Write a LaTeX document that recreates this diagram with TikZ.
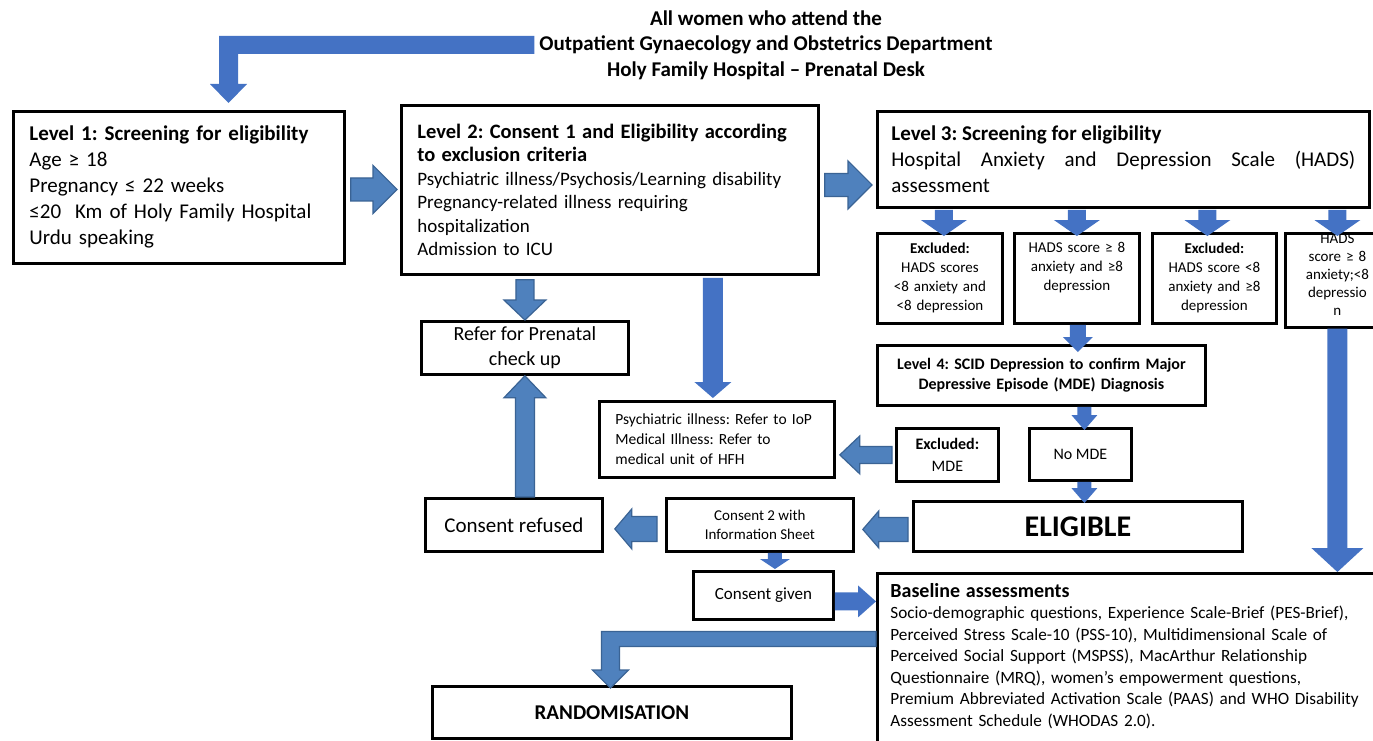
\documentclass[tikz,border=0pt]{standalone}
\usepackage{fontspec}
\setmainfont{Carlito}
\usetikzlibrary{calc}

\definecolor{flowblue}{HTML}{4472C4}
\definecolor{edgeblue}{HTML}{4F81BD}
\definecolor{edgeline}{HTML}{3A6394}

\frenchspacing
\newcommand{\fsize}[2]{\fontsize{#1}{#2}\selectfont}
% block arrow: [style]{from}{to}{shaft half width}{head half width}{head length}
\newcommand{\blockarrow}[6][flow]{%
	\coordinate (ba-s) at (#2);
	\coordinate (ba-e) at (#3);
	\coordinate (ba-h) at ($(ba-e)!#6!(ba-s)$);
	\draw[#1] ($(ba-s)!#4!90:(ba-e)$) -- ($(ba-h)!#4!-90:(ba-s)$) -- ($(ba-h)!#5!-90:(ba-s)$) -- (ba-e)
		-- ($(ba-h)!#5!90:(ba-s)$) -- ($(ba-h)!#4!90:(ba-s)$) -- ($(ba-s)!#4!-90:(ba-e)$) -- cycle;
}

\tikzset{
	box/.style={draw=black, line width=2.8pt, fill=white, inner sep=0pt, anchor=north west},
	flow/.style={fill=flowblue, draw=none},
	flowedge/.style={fill=edgeblue, draw=edgeline, line width=1.2pt, line join=miter},
}

\begin{document}
\begin{tikzpicture}[x=1pt, y=-1pt]
	\useasboundingbox[fill=white] (0,0) rectangle (1373,741);

	\node[inner sep=0pt, align=center, font={\fsize{21}{25.5}\bfseries}] (title) at (766,45)
		{All women who attend the\\Outpatient Gynaecology and Obstetrics Department\\Holy Family Hospital -- Prenatal Desk};

	\node[box, minimum width=331, minimum height=152, text width=299, align=left, font={\fsize{21}{26}}] (lvl1) at (12,110)
		{\textbf{Level 1: Screening for eligibility}\\Age ≥ 18\\Pregnancy ≤ 22 weeks\\≤20~ Km of Holy Family Hospital\\Urdu speaking};
	\node[box, minimum width=417, minimum height=169, text width=385, align=left, font={\fsize{19}{23.5}}] (lvl2) at (400,104)
		{{\fsize{20.5}{24}\bfseries Level 2: Consent 1 and Eligibility according}\\{\fsize{20.5}{24}\bfseries to exclusion criteria}\\Psychiatric illness/Psychosis/Learning disability\\Pregnancy-related illness requiring\\hospitalization\\Admission to ICU};
	\node[box, minimum width=492, minimum height=96, text width=464, align=justify, font={\fsize{21}{26}\hyphenpenalty=10000\tolerance=10000}] (lvl3) at (876,110)
		{\textbf{Level 3: Screening for eligibility}\\Hospital Anxiety and Depression Scale (HADS) assessment};

	\node[box, minimum width=125, minimum height=90, text width=115, align=center, font={\fsize{15}{19}}] (hadsA) at (876,232)
		{\textbf{Excluded:}\\HADS scores\\<8 anxiety and\\<8 depression};
	\node[box, minimum width=125, minimum height=90, text width=115, align=center, font={\fsize{15}{19}}] (hadsB) at (1013,232)
		{HADS score ≥ 8\\anxiety and ≥8\\depression\\\strut};
	\node[box, minimum width=124, minimum height=90, text width=115, align=center, font={\fsize{15}{19}}] (hadsC) at (1151,232)
		{\textbf{Excluded:}\\HADS score <8\\anxiety and ≥8\\depression};
	\node[box, minimum width=104, minimum height=90, text width=96, align=center, font={\fsize{15}{18}}] (hadsD) at (1284,232)
		{HADS\\score ≥ 8\\anxiety;<8\\depressio\\n\\[-6pt]\mbox{}};

	\node[box, minimum width=328, minimum height=60, text width=310, align=center, font={\fsize{16}{20}\bfseries}] (lvl4) at (876,344)
		{Level 4: SCID Depression to confirm Major\\Depressive Episode (MDE) Diagnosis};
	\node[box, minimum width=102, minimum height=53, align=center, font={\fsize{16}{22}}] (exMDE) at (895,427)
		{\textbf{Excluded:}\\MDE};
	\node[box, minimum width=102, minimum height=52, font={\fsize{16}{20}}] (noMDE) at (1028,427) {No MDE};
	\node[box, minimum width=329, minimum height=50, font={\fsize{30}{34}\bfseries}] (eligible) at (912,500) {ELIGIBLE};

	\node[box, minimum width=207, minimum height=53, align=center, font={\fsize{20}{25}}] (refer) at (420,320)
		{Refer for Prenatal\\check up};
	\node[box, minimum width=235, minimum height=76, text width=203, align=left, font={\fsize{15.5}{20}}] (psych) at (598,400)
		{Psychiatric illness: Refer to IoP\\Medical Illness: Refer to\\medical unit of HFH};
	\node[box, minimum width=177, minimum height=53, font={\fsize{21}{25}}] (refused) at (424,497) {Consent refused};
	\node[box, minimum width=187, minimum height=53, align=center, font={\fsize{15}{19}}] (consent2) at (665,497)
		{Consent 2 with\\Information Sheet};
	\node[box, minimum width=140, minimum height=48, font={\fsize{17}{20}}] (given) at (692,570) {Consent given};

	\node[box, inner xsep=13pt, inner ysep=10pt, text width=500, align=left, font={\fsize{17.2}{21.5}}] (base) at (876,572)
		{{\fsize{20}{21.5}\bfseries Baseline assessments}\\Socio-demographic questions, Experience Scale-Brief (PES-Brief),\\Perceived Stress Scale-10 (PSS-10), Multidimensional Scale of\\Perceived Social Support (MSPSS), MacArthur Relationship\\Questionnaire (MRQ), women’s empowerment questions,\\Premium Abbreviated Activation Scale (PAAS) and WHO Disability\\Assessment Schedule (WHODAS 2.0).\\[-10pt]\mbox{}};
	\node[box, minimum width=359, minimum height=52, font={\fsize{21}{25}\bfseries}] (rand) at (431,685) {RANDOMISATION};

	% bent arrows
	\coordinate (tstart) at ($(title.west)+(-5,0)$);
	\coordinate (ttip) at ($(lvl1.north west)+(216.5,-7)$);
	\fill[flowblue] ($(tstart)+(0,-9)$) -| ($(ttip)+(-9.5,-19)$) -- ($(ttip)+(-18.5,-19)$) -- (ttip)
		-- ($(ttip)+(18.5,-19)$) -- ($(ttip)+(9.5,-19)$) |- ($(tstart)+(0,9)$) -- cycle;
	\coordinate (rstart) at ($(base.north west)+(0,67)$);
	\coordinate (rtip) at ($(rand.north)+(-1.5,3)$);
	\draw[flowedge] ($(rstart)+(0,-7.5)$) -| ($(rtip)+(-9,-18)$) -- ($(rtip)+(-18,-18)$) -- (rtip)
		-- ($(rtip)+(18,-18)$) -- ($(rtip)+(9,-18)$) |- ($(rstart)+(0,7.5)$) -- cycle;

	% straight arrows
	\blockarrow[flowedge]{$(lvl1.east)+(5,2)$}{$(lvl1.east -| lvl2.west)+(-3,2)$}{11.5pt}{24pt}{24pt}
	\blockarrow[flowedge]{$(lvl2.east)+(5,-5)$}{$(lvl2.east -| lvl3.west)+(-4,-5)$}{11.5pt}{24pt}{24pt}
	\blockarrow{$(hadsA.north |- lvl3.south)+(4,1)$}{$(hadsA.north)+(4,4)$}{9pt}{23pt}{16pt}
	\blockarrow{$(hadsB.north |- lvl3.south)+(0,1)$}{$(hadsB.north)+(0,4)$}{9pt}{23pt}{16pt}
	\blockarrow{$(hadsC.north |- lvl3.south)+(-7,1)$}{$(hadsC.north)+(-7,4)$}{9pt}{23pt}{16pt}
	\blockarrow{$(hadsD.north |- lvl3.south)+(0,1)$}{$(hadsD.north)+(0,4)$}{9pt}{23pt}{16pt}
	\blockarrow{$(hadsB.south)+(1,0)$}{$(hadsB.south |- lvl4.north)+(1,8)$}{8pt}{15pt}{15pt}
	\blockarrow{$(noMDE.north |- lvl4.south)+(4,0)$}{$(noMDE.north)+(4,3)$}{7pt}{13pt}{15pt}
	\blockarrow{$(noMDE.south)+(4,0)$}{$(noMDE.south |- eligible.north)+(4,3)$}{7pt}{13pt}{15pt}
	\blockarrow[flowedge]{$(exMDE.west)+(-3,0)$}{$(exMDE.west -| psych.east)+(4,0)$}{8.5pt}{19pt}{20pt}
	\blockarrow[flowedge]{$(refer.north |- lvl2.south)+(0,4)$}{refer.north}{9pt}{21pt}{20pt}
	\blockarrow{$(psych.north |- lvl2.south)+(-4,2)$}{$(psych.north)+(-4,-2)$}{10pt}{18.5pt}{16pt}
	\blockarrow[flowedge]{refer.south |- refused.north}{refer.south}{9.5pt}{21pt}{22pt}
	\blockarrow[flowedge]{$(consent2.west)+(-8,4)$}{$(refused.east)+(11,4)$}{12.5pt}{20pt}{17pt}
	\blockarrow[flowedge]{$(eligible.west)+(-4,3)$}{$(consent2.east |- eligible.west)+(8,3)$}{12pt}{18.5pt}{16pt}
	\blockarrow{$(consent2.south)+(15,0)$}{$(consent2.south |- given.north)+(15,-1)$}{7pt}{15pt}{10pt}
	\blockarrow{$(given.east)+(0,6)$}{$(given.east -| base.west)+(0,6)$}{9pt}{16pt}{18pt}
	\blockarrow{hadsD.south}{hadsD.south |- base.north}{10pt}{26pt}{24pt}
\end{tikzpicture}
\end{document}
